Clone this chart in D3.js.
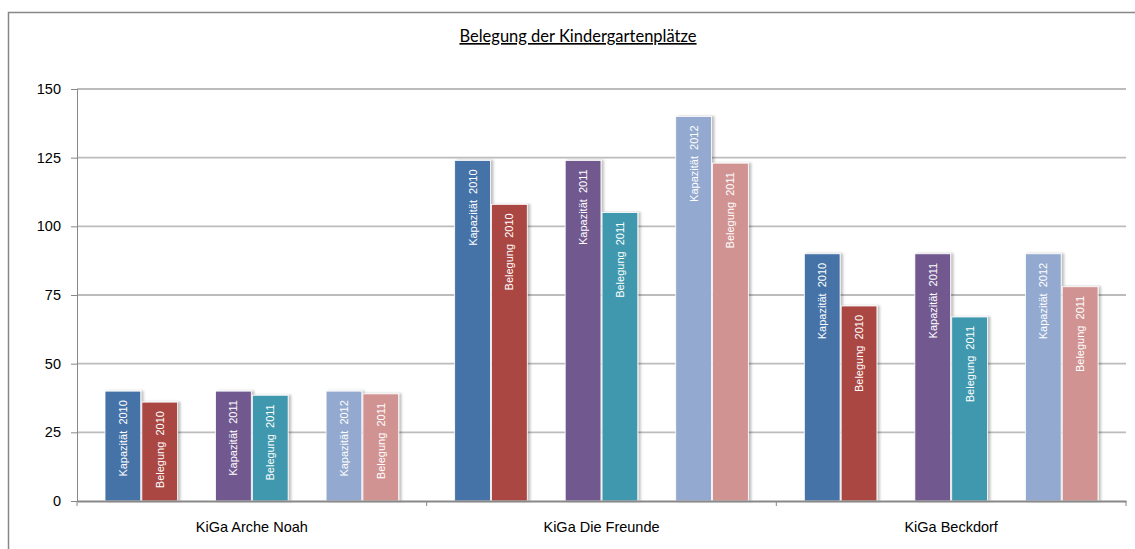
<!DOCTYPE html>
<html>
<head>
<meta charset="utf-8">
<script src="https://cdn.jsdelivr.net/npm/d3@7"></script>
<style>
    body { margin: 0; background: #fff; }
    svg { display: block; }
    .tick text { font-family: "Liberation Sans", Arial, sans-serif; }
</style>
</head>
<body>
<div id="chart"></div>
<script>
// categories and series
const categories = ["KiGa Arche Noah", "KiGa Die Freunde", "KiGa Beckdorf"];
const seriesNames = ["Kapazität  2010", "Belegung  2010", "Kapazität  2011", "Belegung  2011", "Kapazität  2012", "Belegung  2011"];
const seriesColors = ["#4572a7", "#aa4643", "#71588f", "#4198af", "#93a9cf", "#d19392"];
const kapazitaet2010 = [40, 124, 90];
const belegung2010 = [36, 108, 71];
const kapazitaet2011 = [40, 124, 90];
const belegung2011 = [38.5, 105, 67];
const kapazitaet2012 = [40, 140, 90];
const belegung2011b = [39, 123, 78];
const yTicks = [0, 25, 50, 75, 100, 125, 150];

const seriesValues = [kapazitaet2010, belegung2010, kapazitaet2011, belegung2011, kapazitaet2012, belegung2011b];
// slots inside a category: empty slots make the gaps between the pairs
const slots = ["s0", "s1", "gapA", "s2", "s3", "gapB", "s4", "s5"];
const seriesSlot = ["s0", "s1", "s2", "s3", "s4", "s5"];

const width = 1135, height = 549;
const margin = {top: 89, right: 9, bottom: 48, left: 77};

const svg = d3.select("#chart").append("svg")
    .attr("width", width)
    .attr("height", height);

// drop shadow for bars
const defs = svg.append("defs");
const shadow = defs.append("filter")
    .attr("id", "barShadow")
    .attr("x", "-20%").attr("y", "-5%")
    .attr("width", "150%").attr("height", "115%");
shadow.append("feDropShadow")
    .attr("dx", 2.5).attr("dy", 0)
    .attr("stdDeviation", 1.2)
    .attr("flood-color", "#000")
    .attr("flood-opacity", 0.25);

// outer chart frame
svg.append("rect")
    .attr("x", 8.5).attr("y", 12.5)
    .attr("width", 1140).attr("height", 560)
    .attr("fill", "none")
    .attr("stroke", "#878787")
    .attr("stroke-width", 1.5);

// title
svg.append("text")
    .attr("x", 578)
    .attr("y", 42)
    .attr("text-anchor", "middle")
    .style("font-family", "Lato, 'Open Sans', sans-serif")
    .style("font-size", "16.5px")
    .style("text-decoration", "underline")
    .style("fill", "#000")
    .text("Belegung der Kindergartenplätze");

const x0 = d3.scaleBand()
    .domain(categories)
    .range([margin.left, width - margin.right])
    .padding(0);

const x1 = d3.scaleBand()
    .domain(slots)
    .range([0, x0.bandwidth()])
    .paddingInner(0.03)
    .paddingOuter(0.76);

const y = d3.scaleLinear()
    .domain([0, 150])
    .range([height - margin.bottom, margin.top]);

// gridlines
svg.append("g")
    .selectAll("line")
    .data(yTicks.filter(d => d > 0))
    .enter()
    .append("line")
    .attr("x1", margin.left)
    .attr("x2", width - margin.right)
    .attr("y1", d => y(d))
    .attr("y2", d => y(d))
    .attr("stroke", "#bcbcbc")
    .attr("stroke-width", 1.8);

// y axis
const yAxis = svg.append("g")
    .attr("transform", `translate(${margin.left},0)`)
    .call(d3.axisLeft(y).tickValues(yTicks).tickSize(6).tickPadding(10));
yAxis.select(".domain").attr("stroke", "#888");
yAxis.selectAll(".tick line").attr("stroke", "#888");
yAxis.selectAll(".tick text")
    .style("font-size", "14.5px")
    .style("fill", "#000");

// bars
const groups = svg.append("g")
    .selectAll("g")
    .data(categories)
    .enter()
    .append("g")
    .attr("transform", d => `translate(${x0(d)},0)`);

const bars = groups.selectAll("g.bar")
    .data((cat, ci) => seriesNames.map((name, si) => ({
        name, si, value: seriesValues[si][ci]
    })))
    .enter()
    .append("g")
    .attr("class", "bar");

bars.append("rect")
    .attr("x", d => x1(seriesSlot[d.si]))
    .attr("y", d => y(d.value))
    .attr("width", x1.bandwidth())
    .attr("height", d => y(0) - y(d.value))
    .attr("fill", d => seriesColors[d.si])
    .attr("stroke", "#fff")
    .attr("stroke-width", 0.8)
    .attr("filter", "url(#barShadow)");

// rotated labels inside the bars, pushed down from the top, kept above the base
bars.append("text")
    .style("font-family", "'Liberation Sans', Arial, sans-serif")
    .style("font-size", "11px")
    .style("white-space", "pre")
    .style("fill", "#fff")
    .text(d => d.name)
    .each(function (d) {
        const len = this.getComputedTextLength();
        const cx = x1(seriesSlot[d.si]) + x1.bandwidth() / 2 + 4;
        const ty = Math.min(y(d.value) + 9, y(0) - 3 - len) + len;
        d3.select(this)
            .attr("text-anchor", "start")
            .attr("transform", `translate(${cx},${ty}) rotate(-90)`);
    });

// x axis
const xAxis = svg.append("g")
    .attr("transform", `translate(0,${y(0)})`)
    .call(d3.axisBottom(x0).tickSize(0).tickPadding(21));
xAxis.select(".domain").attr("stroke", "#888").attr("stroke-width", 2);
xAxis.selectAll(".tick text")
    .style("font-size", "14.5px")
    .style("fill", "#000");

// category separators on the x axis
svg.append("g")
    .selectAll("line")
    .data(categories.concat([null]))
    .enter()
    .append("line")
    .attr("x1", d => d ? x0(d) : x0.range()[1])
    .attr("x2", d => d ? x0(d) : x0.range()[1])
    .attr("y1", y(0))
    .attr("y2", y(0) + 5)
    .attr("stroke", "#888");
</script>
</body>
</html>
